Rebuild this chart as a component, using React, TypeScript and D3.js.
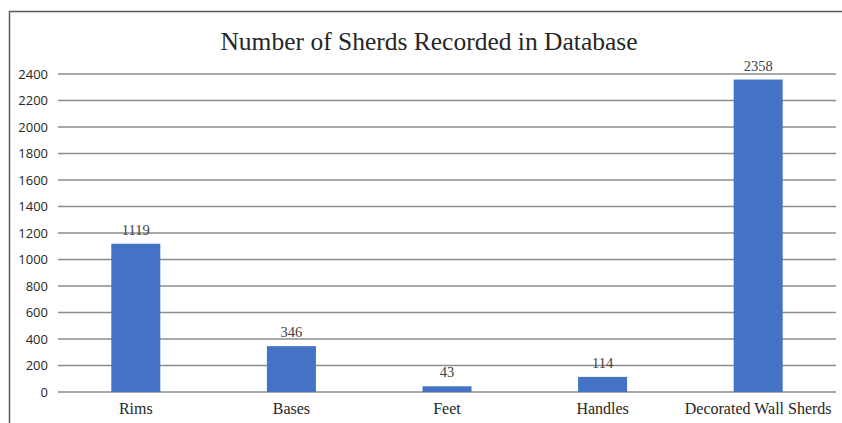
import React, { useEffect, useRef } from "react";
import * as d3 from "d3";

const categories = ["Rims", "Bases", "Feet", "Handles", "Decorated Wall Sherds"];
const counts = [1119, 346, 43, 114, 2358];
const yTicks = [0, 200, 400, 600, 800, 1000, 1200, 1400, 1600, 1800, 2000, 2200, 2400];
const title = "Number of Sherds Recorded in Database";

const W = 842;
const H = 423;

export default function App() {
  const ref = useRef<SVGSVGElement>(null);

  useEffect(() => {
    const svg = d3.select(ref.current);
    svg.selectAll("*").remove();

    const left = 58, right = 836, top = 74, bottom = 392;
    const serif = "'Liberation Serif', 'DejaVu Serif', serif";

    const x = d3.scaleBand<string>().domain(categories).range([left, right]).paddingInner(0.685).paddingOuter(0.3425);
    const y = d3.scaleLinear().domain([0, 2400]).range([bottom, top]);

    // chart frame (only top/left visible in crop)
    svg.append("rect")
      .attr("x", 9.5).attr("y", 11.5)
      .attr("width", 900).attr("height", 500)
      .attr("fill", "white")
      .attr("stroke", "#595959")
      .attr("stroke-width", 1.5);

    svg.append("text")
      .attr("x", 429).attr("y", 50)
      .attr("text-anchor", "middle")
      .attr("font-family", serif)
      .attr("font-size", 25.5)
      .attr("fill", "#262626")
      .text(title);

    const grid = svg.append("g");
    grid.selectAll("line")
      .data(yTicks)
      .join("line")
      .attr("x1", left).attr("x2", right)
      .attr("y1", d => y(d)).attr("y2", d => y(d))
      .attr("stroke", "#8c8c8c")
      .attr("stroke-width", 1.5);

    svg.append("g").selectAll("text")
      .data(yTicks)
      .join("text")
      .attr("x", 48)
      .attr("y", d => y(d) + 4.5)
      .attr("text-anchor", "end")
      .attr("font-family", "'Open Sans', sans-serif")
      .attr("font-size", 13)
      .attr("fill", "#262626")
      .text(d => d);

    svg.append("g").selectAll("rect")
      .data(categories)
      .join("rect")
      .attr("x", d => x(d)!)
      .attr("y", (d, i) => y(counts[i]))
      .attr("width", x.bandwidth())
      .attr("height", (d, i) => y(0) - y(counts[i]))
      .attr("fill", "#4472c4");

    svg.append("g").selectAll("text")
      .data(categories)
      .join("text")
      .attr("x", d => x(d)! + x.bandwidth() / 2)
      .attr("y", (d, i) => y(counts[i]) - 9)
      .attr("text-anchor", "middle")
      .attr("font-family", serif)
      .attr("font-size", 14.5)
      .attr("fill", "#404040")
      .text((d, i) => counts[i]);

    svg.append("g").selectAll("text")
      .data(categories)
      .join("text")
      .attr("x", d => x(d)! + x.bandwidth() / 2)
      .attr("y", 414)
      .attr("text-anchor", "middle")
      .attr("font-family", serif)
      .attr("font-size", 16)
      .attr("fill", "#262626")
      .text(d => d);
  }, []);

  return (
    <svg ref={ref} width={W} height={H} style={{ position: "absolute", left: 0, top: 0, background: "white" }} />
  );
}
